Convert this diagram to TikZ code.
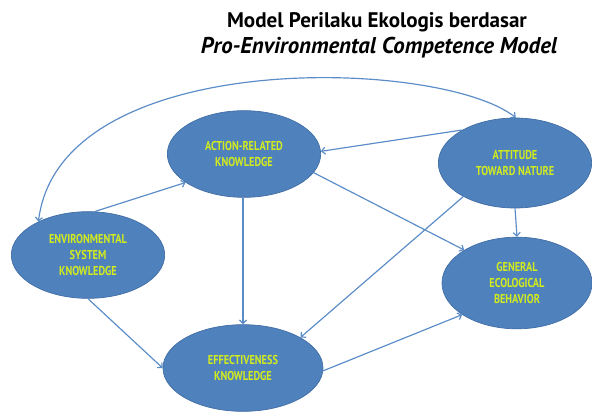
\documentclass[tikz,border=0pt]{standalone}
\usepackage{fontspec}
\usepackage{tikz}
\usetikzlibrary{arrows.meta}
\usetikzlibrary{shapes.geometric}

\newfontfamily\nodefont[FakeStretch=0.8]{PT Sans}
\newfontfamily\headfont[FakeStretch=1.0]{PT Sans}

\definecolor{ovalblue}{RGB}{79,129,189}
\definecolor{ovalline}{RGB}{65,110,165}
\definecolor{linkblue}{RGB}{90,140,200}
\definecolor{labelgreen}{RGB}{210,235,30}

\tikzset{
  oval/.style={ellipse,fill=ovalblue,draw=ovalline,line width=0.6pt,
    minimum width=4.6cm,minimum height=2.6cm,inner sep=0pt,
    text=labelgreen,align=center,
    font=\nodefont\bfseries\fontsize{11}{13.5}\selectfont},
  link/.style={draw=linkblue,line width=1pt,-{Straight Barb[length=3pt,width=6pt]}}
}

\begin{document}
\begin{tikzpicture}[x=0.03cm,y=-0.03cm]
\useasboundingbox (0,0) rectangle (592,412);

\node[font=\headfont\bfseries\fontsize{18}{20}\selectfont] (head) at (377,22) {Model Perilaku Ekologis berdasar};
\node[font=\headfont\bfseries\itshape\fontsize{19.5}{20}\selectfont] (subhead) at (379,48) {Pro-Environmental Competence Model};

\node[oval] (action) at (244,154) {ACTION-RELATED\\KNOWLEDGE};
\node[oval,minimum height=2.7cm] (attitude) at (515,163) {ATTITUDE\\TOWARD NATURE};
\node[oval] (envsys) at (88,255) {ENVIRONMENTAL\\SYSTEM\\KNOWLEDGE};
\node[oval,minimum width=4.5cm,minimum height=2.75cm] (general) at (517,283) {GENERAL\\ECOLOGICAL\\BEHAVIOR};
\node[oval,minimum width=4.8cm] (effect) at (243,368) {EFFECTIVENESS\\KNOWLEDGE};

% long curved link on top
\draw[link,{Straight Barb[length=3pt,width=6pt]}-{Straight Barb[length=3pt,width=6pt]}]
  (envsys.146) .. controls (60,46) and (440,58) .. (attitude.89);

\draw[link] (envsys.81) -- (action.206);
\draw[link] (attitude.148) -- (action.2);
\draw[link] (action.south -| effect.north) -- (effect.north);
\draw[link] (action.-15) -- (general.148);
\draw[link] (attitude.south) -- (general.north);
\draw[link] (attitude.213) -- (effect.28);
\draw[link] (envsys.south) -- (effect.180);
\draw[link] (effect.-2) -- (general.210);
\end{tikzpicture}
\end{document}
